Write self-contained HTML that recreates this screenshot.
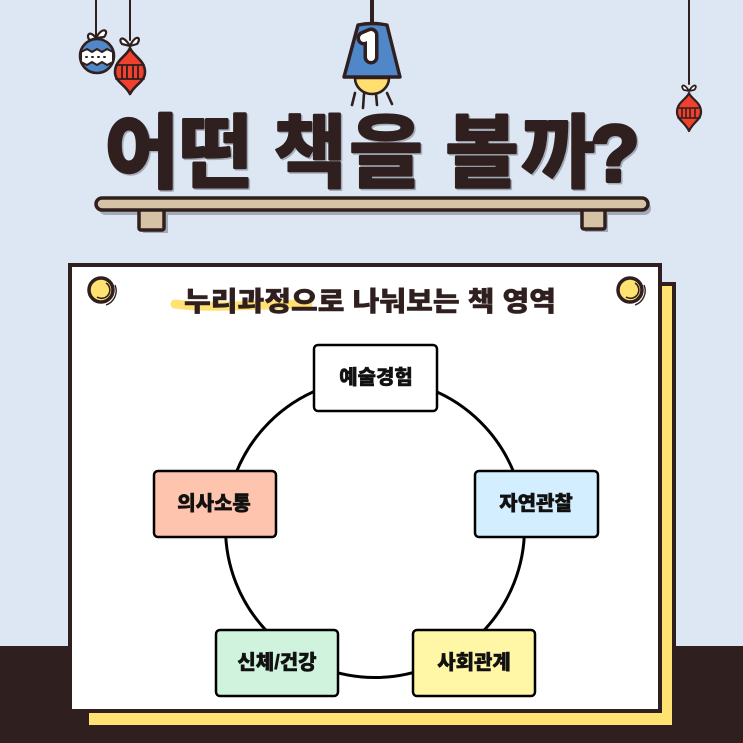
<!DOCTYPE html>
<html lang="ko"><head><meta charset="utf-8">
<style>
html,body{margin:0;padding:0;width:743px;height:743px;overflow:hidden;background:#dde7f3}
svg{display:block}
text{font-family:"Liberation Sans","Noto Sans CJK KR",sans-serif}
</style></head><body>
<svg width="743" height="743" viewBox="0 0 743 743" xmlns="http://www.w3.org/2000/svg">
<rect width="743" height="743" fill="#dde7f3"/>
<rect y="646" width="743" height="97" fill="#2f1f1f"/>

<!-- ornaments -->
<g stroke="#2f1f1f" fill="none" stroke-linejoin="round" stroke-linecap="round">
<path d="M96 0V36M130 0V40M689 0V84" stroke-width="2"/>
<path d="M372 0V24" stroke-width="4"/>
<path d="M96 38C88 28 86 38 90 40ZM96 38C102 26 110 30 104 37Z" stroke-width="2.2" fill="#fff"/>
<circle cx="97" cy="56" r="17" fill="#5087c9" stroke-width="2.6"/>
<path d="M81 52L87 49L92 52L97 49L102 52L107 49L113 52V62L107 65L102 62L97 65L92 62L87 65L81 62Z" fill="#fff" stroke-width="2"/>
<path d="M86 57H109" stroke-width="2" stroke-dasharray="1 5"/>
<path d="M130 46C122 33 118 40 122 44ZM130 46C136 33 142 38 137 44Z" stroke-width="2.2" fill="#fff"/>
<path d="M130 48C127 56 115 60 115 72C115 82 125 84 130 94C135 84 145 82 145 72C145 60 133 56 130 48Z" fill="#f0412f" stroke-width="2.6"/>
<path d="M116 65H144M116 79H144M122 66V79M127 66V79M133 66V79M138 66V79" stroke-width="1.8"/>
<path d="M689 91C683 81 680 87 684 90ZM689 91C695 81 698 87 694 90Z" stroke-width="1.8" fill="#fff"/>
<path d="M689 93C687 99 677 102 677 112C677 120 685 122 689 131C693 122 701 120 701 112C701 102 691 99 689 93Z" fill="#f0412f" stroke-width="2.2"/>
<path d="M678 108H700M678 118H700M682 108V118M686 108V118M690 108V118M695 108V118" stroke-width="1.5"/>
<!-- lamp -->
<path d="M355 78A17 16 0 0 0 389 78Z" fill="#ffdf6f" stroke-width="2.6"/>
<path d="M358 25Q372 22 387 25L400 77H344Z" fill="#5087c9" stroke-width="3.4"/>
<path d="M355 93L352 105M364 94L363 108M376 94L377 105M387 93L392 104" stroke-width="2.6"/>
<path d="M364 38L371 35V57" stroke="#2f1f1f" stroke-width="15"/>
<path d="M364 38L371 35V57" stroke="#fff" stroke-width="8"/>
</g>

<!-- title -->
<g text-anchor="middle" font-size="80" font-weight="700" stroke-linejoin="round">
<g fill="#a3abb6" stroke="#a3abb6" transform="translate(1.500 1.500)">
<text x="142" y="181" stroke-width="4">어</text><text x="216" y="181" stroke-width="3">떤</text><text x="310" y="181" stroke-width="2.500">책</text><text x="386" y="181" stroke-width="2.500">을</text><text x="482" y="181" stroke-width="2.500">볼</text><text x="558" y="181" stroke-width="3">까</text><text x="615" y="181" stroke-width="4">?</text>
</g>
<g fill="#2f1f1f" stroke="#2f1f1f">
<text x="142" y="181" stroke-width="4">어</text><text x="216" y="181" stroke-width="3">떤</text><text x="310" y="181" stroke-width="2.500">책</text><text x="386" y="181" stroke-width="2.500">을</text><text x="482" y="181" stroke-width="2.500">볼</text><text x="558" y="181" stroke-width="3">까</text><text x="615" y="181" stroke-width="4">?</text>
</g>
</g>

<!-- shelf -->
<g fill="#a3abb6">
<rect x="99" y="202" width="552" height="13" rx="6.5"/>
<rect x="143" y="212" width="25" height="21"/>
<rect x="585" y="212" width="23" height="20"/>
</g>
<g stroke="#2f1f1f" stroke-width="3.5" fill="#d6c3a5" stroke-linejoin="round">
<rect x="139" y="209" width="25" height="21" rx="2"/>
<rect x="582" y="209" width="23" height="20" rx="2"/>
</g>
<rect x="96" y="198" width="552" height="12" rx="6" fill="#d6c3a5" stroke="#2f1f1f" stroke-width="3.5"/>

<!-- panels -->
<rect x="87" y="284" width="587" height="443" fill="#ffe272" stroke="#2f1f1f" stroke-width="4"/>
<rect x="70" y="265" width="590" height="446" fill="#fff" stroke="#2f1f1f" stroke-width="4"/>

<!-- pins -->
<g fill="none" stroke="#2f1f1f">
<circle cx="101" cy="290" r="12" fill="#ffe272" stroke-width="3.5"/>
<path d="M106 283A8 8 0 0 1 97 297" stroke-width="1.6"/>
<path d="M115 285A15 15 0 0 1 106 305" stroke-width="1.4"/>
<circle cx="630" cy="290" r="12" fill="#ffe272" stroke-width="3.5"/>
<path d="M635 283A8 8 0 0 1 626 297" stroke-width="1.6"/>
<path d="M644 285A15 15 0 0 1 635 305" stroke-width="1.4"/>
</g>

<!-- highlight and heading -->
<path d="M175 304C210 309 270 304 308 304" stroke="#ffe272" stroke-width="9" fill="none" stroke-linecap="round"/>
<text x="370" y="311" text-anchor="middle" font-size="27" font-weight="900" fill="#2f1f1f" stroke="#2f1f1f" stroke-width=".5" textLength="372" lengthAdjust="spacingAndGlyphs">누리과정으로 나눠보는 책 영역</text>

<!-- diagram -->
<circle cx="375" cy="528" r="149.500" fill="none" stroke="#000" stroke-width="3"/>
<g stroke="#000" stroke-width="2.5">
<rect x="314" y="345" width="123" height="66" rx="4" fill="#fff"/>
<rect x="475" y="471" width="123" height="66" rx="4" fill="#d2eeff"/>
<rect x="413" y="630" width="122" height="66" rx="4" fill="#fff6a6"/>
<rect x="216" y="630" width="122" height="66" rx="4" fill="#cff3dd"/>
<rect x="154" y="471" width="122" height="66" rx="4" fill="#ffc4ad"/>
</g>
<g text-anchor="middle" font-size="20" font-weight="900" fill="#111" stroke="#111" stroke-width=".5">
<text x="376" y="384">예술경험</text>
<text x="536" y="510">자연관찰</text>
<text x="474" y="669">사회관계</text>
<text x="277" y="669">신체/건강</text>
<text x="214" y="510">의사소통</text>
</g>
</svg>
</body></html>
